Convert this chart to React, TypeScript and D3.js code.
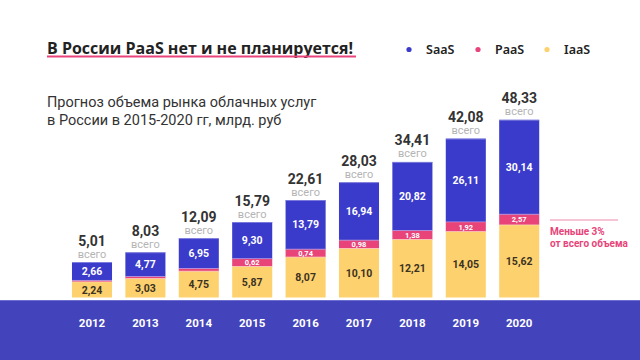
import * as d3 from "d3";

const years = ["2012", "2013", "2014", "2015", "2016", "2017", "2018", "2019", "2020"];
const saas = [2.66, 4.77, 6.95, 9.3, 13.79, 16.94, 20.82, 26.11, 30.14];
const paas = [0.11, 0.23, 0.39, 0.62, 0.74, 0.98, 1.38, 1.92, 2.57];
const iaas = [2.24, 3.03, 4.75, 5.87, 8.07, 10.1, 12.21, 14.05, 15.62];
const totals = [5.01, 8.03, 12.09, 15.79, 22.61, 28.03, 34.41, 42.08, 48.33];

const legendItems = [
  { name: "SaaS", color: "#3a3acb" },
  { name: "PaaS", color: "#e8447a" },
  { name: "IaaS", color: "#fed16f" },
];

const W = 640;
const H = 360;
const baseY = 297.5;
const fmt = (v: number) => v.toFixed(2).replace(".", ",");

export default function App() {
  const x = d3
    .scaleBand<string>()
    .domain(years)
    .range([65.3, 545.9])
    .paddingInner(0.25)
    .paddingOuter(0.125);

  // infographic is not drawn to scale: each layer has its own height scale
  const blueH = d3.scaleLinear().domain([0, d3.max(saas)!]).range([11, 94.5]);
  const yellowH = d3.scaleLinear().domain([0, d3.max(iaas)!]).range([6, 72.5]);
  const pinkH = d3
    .scaleLinear()
    .domain([0, 0.4, 0.6, d3.max(paas)!])
    .range([1, 2.8, 7.7, 10.7]);

  const font = "Roboto, 'Noto Sans', sans-serif";

  const bars = years.map((yr, i) => {
    const hy = yellowH(iaas[i]);
    const hp = pinkH(paas[i]);
    const hb = blueH(saas[i]);
    const yY = baseY - hy;
    const yP = yY - hp;
    const yB = yP - hb;
    return { yr, i, x0: x(yr)!, hy, hp, hb, yY, yP, yB };
  });

  const bw = x.bandwidth();

  return (
    <svg
      width={W}
      height={H}
      style={{ position: "absolute", left: 0, top: 0, background: "#fff" }}
      fontFamily={font}
    >
      <rect width={W} height={H} fill="#fff" />

      {/* title */}
      <text x={47} y={53.5} fontSize={16} fontWeight={700} fill="#222" fontFamily="'Open Sans', sans-serif">
        В России PaaS нет и не планируется!
      </text>
      <rect x={47} y={55.5} width={309} height={2} fill="#e8447a" />

      {/* legend */}
      {legendItems.map((d, i) => {
        const lx = 409 + i * 69;
        return (
          <g key={d.name}>
            <circle cx={lx} cy={49.5} r={2.6} fill={d.color} />
            <text x={lx + 17} y={53.5} fontSize={12.5} fontWeight={600} fill="#222" fontFamily="'Noto Sans', sans-serif">
              {d.name}
            </text>
          </g>
        );
      })}

      {/* subtitle */}
      <text x={47} y={107} fontSize={14.5} fill="#333">
        Прогноз объема рынка облачных услуг
      </text>
      <text x={47} y={125} fontSize={14.5} fill="#333">
        в России в 2015-2020 гг, млрд. руб
      </text>

      {/* bottom band */}
      <rect x={0} y={300} width={W} height={H - 300} fill="#4343bb" />
      <rect x={0} y={300} width={W} height={1} fill="#6d6dd0" />

      {bars.map((b) => {
        const cx = b.x0 + bw / 2;
        return (
          <g key={b.yr}>
            <rect x={b.x0} y={b.yY} width={bw} height={b.hy} fill="#fed16f" />
            <rect x={b.x0} y={b.yP} width={bw} height={b.hp} fill="#e8447a" />
            <rect x={b.x0} y={b.yB} width={bw} height={b.hb} fill="#3a3acb" />
            {/* thin separators */}
            <rect x={b.x0} y={b.yY - 0.5} width={bw} height={0.8} fill="#fbe0c0" opacity={0.8} />
            <rect x={b.x0} y={b.yP - 0.5} width={bw} height={0.8} fill="#c8a0e0" opacity={0.8} />
            <rect x={b.x0} y={b.yB} width={bw} height={0.8} fill="#8a8ae0" />

            <text x={cx} y={b.yY + b.hy / 2 + 3.8} textAnchor="middle" fontSize={10.5} fontWeight={700} fill="#3b3322">
              {fmt(iaas[b.i])}
            </text>
            {b.hp >= 7 && (
              <text x={cx} y={b.yP + b.hp / 2 + 2.7} textAnchor="middle" fontSize={7.5} fontWeight={700} fill="#fff">
                {fmt(paas[b.i])}
              </text>
            )}
            <text x={cx} y={b.yB + b.hb / 2 + 3.8} textAnchor="middle" fontSize={10.5} fontWeight={700} fill="#fff">
              {fmt(saas[b.i])}
            </text>

            <text x={cx} y={b.yB - 16.5} textAnchor="middle" fontSize={14} fontWeight={700} fill="#333">
              {fmt(totals[b.i])}
            </text>
            <text x={cx} y={b.yB - 4.5} textAnchor="middle" fontSize={11} fill="#b4b4b4">
              всего
            </text>

            <text x={cx} y={326.5} textAnchor="middle" fontSize={11.5} fontWeight={700} fill="#fff">
              {b.yr}
            </text>
          </g>
        );
      })}

      {/* annotation */}
      <line x1={550} x2={618} y1={220} y2={220} stroke="#f08aab" strokeWidth={1.2} />
      <text x={550} y={235} fontSize={10} fontWeight={700} fill="#e8447a">
        Меньше 3%
      </text>
      <text x={550} y={247} fontSize={10} fontWeight={700} fill="#e8447a">
        от всего объема
      </text>
    </svg>
  );
}
